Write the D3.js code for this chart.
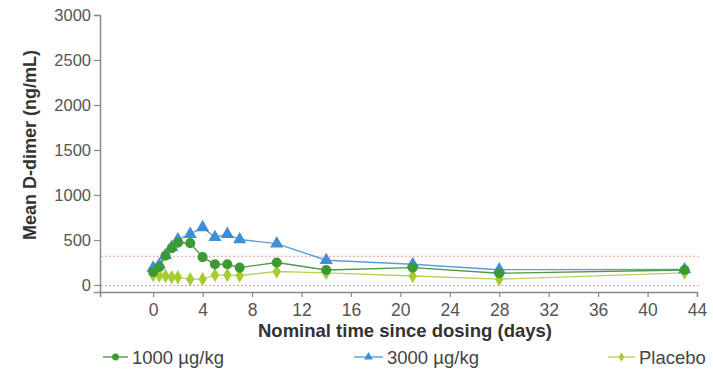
<!DOCTYPE html>
<html>
<head>
<meta charset="utf-8">
<script src="https://cdn.jsdelivr.net/npm/d3@7/dist/d3.min.js"></script>
<style>
  html, body { margin: 0; padding: 0; background: #fff; }
  svg { display: block; font-family: "Liberation Sans", Arial, Helvetica, sans-serif; }
</style>
</head>
<body>
<svg id="chart" width="713" height="369"></svg>
<script>
// Mean D-dimer over time by treatment group
const days = [0, 0.5, 1, 1.5, 2, 3, 4, 5, 6, 7, 10, 14, 21, 28, 43];
const dose1000 = [145, 200, 325, 410, 470, 465, 310, 230, 230, 193, 250, 167, 193, 130, 167];
const dose3000 = [190, 225, 330, 420, 505, 565, 640, 530, 565, 505, 460, 275, 230, 170, 172];
const placebo = [110, 105, 100, 85, 85, 65, 65, 110, 110, 105, 150, 135, 100, 65, 135];

const xTicks = [0, 4, 8, 12, 16, 20, 24, 28, 32, 36, 40, 44];
const yTicks = [0, 500, 1000, 1500, 2000, 2500, 3000];
const refLines = [320, -5];

const series = [
  { name: "3000 µg/kg", values: dose3000, color: "#3f8fd6", line: "#5b9fd9", shape: d3.symbolTriangle, size: 75 },
  { name: "Placebo", values: placebo, color: "#a6cc32", line: "#b5d35a", shape: d3.symbolDiamond, size: 60 },
  { name: "1000 µg/kg", values: dose1000, color: "#3c9a34", line: "#4f9a47", shape: d3.symbolCircle, size: 80 }
];

const svg = d3.select("#chart");
const x = d3.scaleLinear().domain([-4.3, 44]).range([100, 697]);
const y = d3.scaleLinear().domain([-78, 3000]).range([292, 15]);

// reference range lines
svg.append("g").selectAll("line").data(refLines).join("line")
  .attr("x1", x.range()[0] + 1).attr("x2", 700)
  .attr("y1", d => y(d)).attr("y2", d => y(d))
  .attr("stroke", "#e99a9a").attr("stroke-width", 1.1)
  .attr("stroke-dasharray", "2,2");

// axes
const yAxis = svg.append("g").attr("transform", `translate(${x.range()[0]},0)`)
  .call(d3.axisLeft(y).tickValues(yTicks).tickSize(6).tickPadding(3).tickFormat(d3.format("d")));
const xAxis = svg.append("g").attr("transform", `translate(0,${y.range()[0]})`)
  .call(d3.axisBottom(x).tickValues(xTicks).tickSize(5).tickFormat(d3.format("d")));

[yAxis, xAxis].forEach(g => {
  g.select(".domain").attr("stroke", "#8a8a8a").attr("stroke-width", 1.5);
  g.selectAll(".tick line").attr("stroke", "#8a8a8a").attr("stroke-width", 1.2);
  g.selectAll(".tick text").attr("fill", "#555");
});
yAxis.selectAll(".tick text").attr("font-size", 16.5);
xAxis.selectAll(".tick text").attr("font-size", 17.5).attr("y", 24).attr("dy", 0);

// axis titles
svg.append("text")
  .attr("transform", "translate(36,145) rotate(-90)")
  .attr("text-anchor", "middle")
  .attr("font-weight", "bold").attr("font-size", 18).attr("fill", "#333")
  .text("Mean D-dimer (ng/mL)");
svg.append("text")
  .attr("x", 405).attr("y", 337)
  .attr("text-anchor", "middle")
  .attr("font-weight", "bold").attr("font-size", 18.5).attr("fill", "#333")
  .text("Nominal time since dosing (days)");

// series lines and markers
const line = d3.line().x(d => x(d[0])).y(d => y(d[1]));
series.forEach(s => {
  const pts = days.map((d, i) => [d, s.values[i]]);
  svg.append("path").datum(pts)
    .attr("d", line).attr("fill", "none")
    .attr("stroke", s.line).attr("stroke-width", 1.4);
});
series.forEach(s => {
  const pts = days.map((d, i) => [d, s.values[i]]);
  svg.append("g").selectAll("path").data(pts).join("path")
    .attr("transform", d => `translate(${x(d[0])},${y(d[1])})`)
    .attr("d", d3.symbol().type(s.shape).size(s.size))
    .attr("fill", s.color);
});

// legend
const legendItems = [
  { s: series[2], x: 103, w: 25 },
  { s: series[0], x: 354, w: 29 },
  { s: series[1], x: 608, w: 27 }
];
const lg = svg.append("g").attr("transform", "translate(0,357)");
legendItems.forEach(item => {
  const g = lg.append("g").attr("transform", `translate(${item.x},0)`);
  g.append("line").attr("x1", 0).attr("x2", item.w).attr("y1", 0).attr("y2", 0)
    .attr("stroke", item.s.line).attr("stroke-width", 1.4);
  g.append("path").attr("transform", `translate(${item.w / 2},0)`)
    .attr("d", d3.symbol().type(item.s.shape).size(item.s.size * 0.45))
    .attr("fill", item.s.color);
  g.append("text").attr("x", item.w + 4).attr("y", 0).attr("dy", "0.36em")
    .attr("font-size", 18.5).attr("fill", "#444")
    .text(item.s.name);
});
</script>
</body>
</html>
